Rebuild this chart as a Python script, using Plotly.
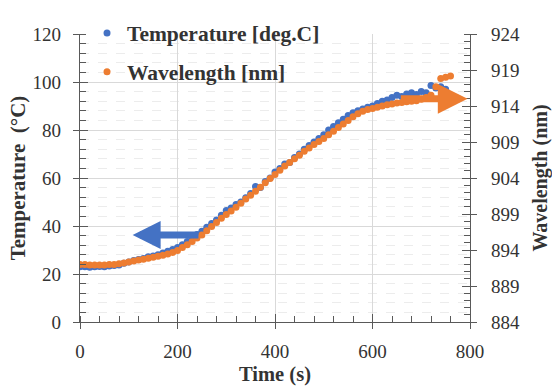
import plotly.graph_objects as go

# ---- data ----
time_s = [0, 10, 20, 30, 40, 50, 60, 70, 80, 90, 100, 110, 120, 130, 140, 150, 160, 170, 180, 190,
          200, 210, 220, 230, 240, 250, 260, 270, 280, 290, 300, 310, 320, 330, 340, 350, 360, 370, 380, 390,
          400, 410, 420, 430, 440, 450, 460, 470, 480, 490, 500, 510, 520, 530, 540, 550, 560, 570, 580, 590,
          600, 610, 620, 630, 640, 650, 660, 670, 680, 690, 700, 710, 720, 730, 740, 750]

temperature_c = [23.0, 23.0, 22.8, 23.0, 23.1, 23.0, 23.3, 23.5, 23.8, 24.5, 25.0, 25.6, 26.0, 26.5, 27.2, 27.5,
                 28.0, 28.8, 29.5, 30.2, 31.0, 32.2, 33.5, 34.8, 36.5, 37.8, 39.5, 41.0, 42.5, 44.5, 46.5, 47.5,
                 49.0, 50.0, 51.8, 53.5, 56.5, 56.0, 58.5, 60.0, 62.5, 64.0, 65.8, 66.5, 68.5, 70.0, 72.0, 73.5,
                 75.0, 76.5, 78.0, 80.0, 81.5, 83.0, 84.5, 86.0, 87.2, 88.0, 88.8, 89.5, 90.0, 91.0, 92.0, 92.5,
                 93.5, 94.5, 94.0, 95.0, 95.5, 94.8, 96.0, 95.5, 98.5, 97.5, 98.0, 97.0]

time_wl = time_s + [760]
wavelength_nm = [892.00, 892.00, 891.93, 891.93, 891.90, 891.93, 892.00, 892.00, 892.10, 892.20,
                 892.33, 892.47, 892.60, 892.73, 892.87, 893.00, 893.13, 893.27, 893.43, 893.67,
                 893.93, 894.33, 894.73, 895.17, 895.67, 896.07, 896.67, 897.27, 897.83, 898.40,
                 898.93, 899.40, 899.93, 900.50, 901.07, 901.60, 902.17, 902.73, 903.33, 903.93,
                 904.50, 905.07, 905.67, 906.17, 906.67, 907.17, 907.73, 908.17, 908.67, 909.07,
                 909.50, 910.00, 910.50, 911.00, 911.50, 912.00, 912.50, 912.93, 913.27, 913.50,
                 913.67, 913.83, 914.00, 914.17, 914.27, 914.40, 914.50, 914.60, 914.67, 914.73,
                 914.93, 915.17, 915.50, 916.67, 917.83, 918.00, 918.17]

x_ticks = [0, 200, 400, 600, 800]
y_ticks = [0, 20, 40, 60, 80, 100, 120]
y2_ticks = [884, 889, 894, 899, 904, 909, 914, 919, 924]

# arrows (data coordinates): (tail_x, tip_x, y on temperature axis)
arrow_temp = (246, 108, 36.2)
arrow_wl = (655, 795, 93.0)

BLUE = "#4472C4"
ORANGE = "#ED7D31"
FONT = "Liberation Serif"
TXT = "#333333"
AX = "#595959"

fig = go.Figure()
fig.add_trace(go.Scatter(x=time_s, y=temperature_c, mode="markers", name="Temperature [deg.C]",
                         marker=dict(color=BLUE, size=7), legendgroup="a"))
fig.add_trace(go.Scatter(x=time_wl, y=wavelength_nm, mode="markers", name="Wavelength [nm]",
                         marker=dict(color=ORANGE, size=7), yaxis="y2", legendgroup="b"))

# arrows
fig.add_annotation(x=arrow_temp[1], y=arrow_temp[2], ax=arrow_temp[0], ay=arrow_temp[2],
                   xref="x", yref="y", axref="x", ayref="y", text="", showarrow=True,
                   arrowhead=2, arrowsize=0.8, arrowwidth=7, arrowcolor=BLUE)
fig.add_annotation(x=arrow_wl[1], y=arrow_wl[2], ax=arrow_wl[0], ay=arrow_wl[2],
                   xref="x", yref="y", axref="x", ayref="y", text="", showarrow=True,
                   arrowhead=2, arrowsize=0.85, arrowwidth=7, arrowcolor=ORANGE)

axis_common = dict(showline=True, linecolor=AX, linewidth=1.3, ticks="outside", ticklen=6,
                   tickcolor=AX, tickwidth=1.3, zeroline=False, automargin=False,
                   tickfont=dict(family=FONT, size=19, color=TXT))

fig.update_layout(
    width=552, height=386,
    margin=dict(l=80, r=82, t=22, b=64),
    paper_bgcolor="white", plot_bgcolor="white",
    font=dict(family=FONT, color=TXT),
    xaxis=dict(range=[0, 800], tickvals=x_ticks, showgrid=True, gridcolor="#d9d9d9", gridwidth=1,
               minor=dict(dtick=40, ticks="inside", ticklen=6, tickcolor=AX, showgrid=False),
               title=dict(text="<b>Time (s)</b>", font=dict(family=FONT, size=20.5, color=TXT), standoff=11),
               ticklabelstandoff=6, **axis_common),
    yaxis=dict(range=[0, 120], tickvals=y_ticks, showgrid=True, gridcolor="#d9d9d9", gridwidth=1,
               minor=dict(dtick=4, ticks="inside", ticklen=6, tickcolor=AX,
                          showgrid=True, gridcolor="#ececec", griddash="dash", gridwidth=1),
               title=dict(text="<b>Temperature  (°C)</b>", font=dict(family=FONT, size=21, color=TXT), standoff=1),
               ticklabelstandoff=8, **axis_common),
    yaxis2=dict(range=[884, 924], tickvals=y2_ticks, overlaying="y", side="right", showgrid=False,
                minor=dict(dtick=1, ticks="inside", ticklen=6, tickcolor=AX),
                title=dict(text="<b>Wavelength (nm)</b>", font=dict(family=FONT, size=20, color=TXT), standoff=14),
                ticklabelstandoff=10, **axis_common),
    # overlay axes giving the inner half of the crossing major ticks
    xaxis2=dict(range=[0, 800], tickvals=x_ticks, overlaying="x", anchor="y", side="bottom",
                ticks="inside", ticklen=8, tickcolor=AX, tickwidth=1.3, showticklabels=False,
                showgrid=False, showline=False, zeroline=False),
    yaxis3=dict(range=[0, 120], tickvals=y_ticks, overlaying="y", anchor="x", side="left",
                ticks="inside", ticklen=8, tickcolor=AX, tickwidth=1.3, showticklabels=False,
                showgrid=False, showline=False, zeroline=False),
    yaxis4=dict(range=[884, 924], tickvals=y2_ticks, overlaying="y", anchor="x", side="right",
                ticks="inside", ticklen=8, tickcolor=AX, tickwidth=1.3, showticklabels=False,
                showgrid=False, showline=False, zeroline=False),
    legend=dict(x=0.018, y=1.075, xanchor="left", yanchor="top", bgcolor="rgba(0,0,0,0)",
                font=dict(family=FONT, size=21.5, color=TXT), traceorder="grouped", tracegroupgap=8,
                itemwidth=30),
    showlegend=True,
)
# dummy invisible traces so overlay axes are drawn
fig.add_trace(go.Scatter(x=[None], y=[None], xaxis="x2", yaxis="y3", showlegend=False, hoverinfo="skip"))
fig.add_trace(go.Scatter(x=[None], y=[None], xaxis="x2", yaxis="y4", showlegend=False, hoverinfo="skip"))

fig.for_each_trace(lambda t: t.update(name=f"<b>{t.name}</b>") if t.name else None)

fig.write_html("out.html", config={"displayModeBar": False},
               post_script="document.body.style.margin='0';document.body.style.padding='0';")
